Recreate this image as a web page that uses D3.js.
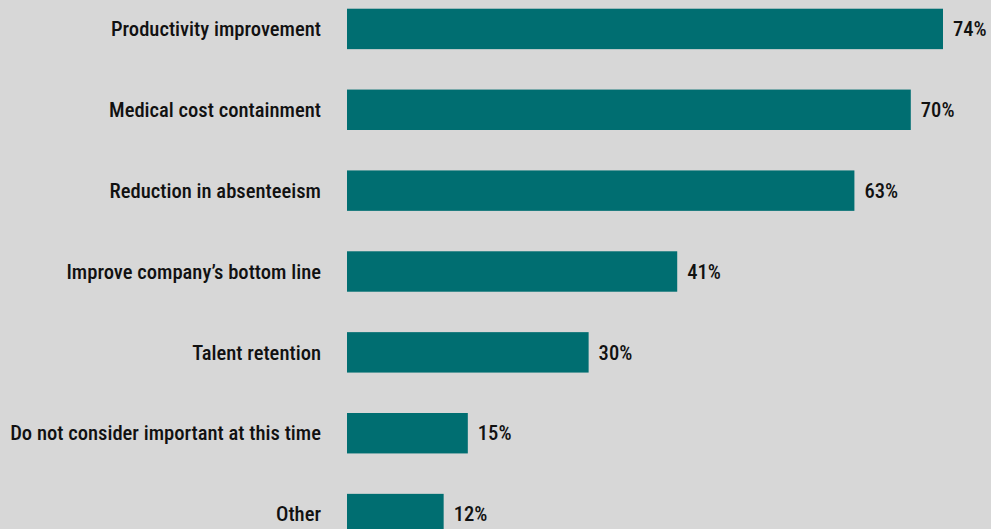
<!DOCTYPE html>
<html><head><meta charset="utf-8">
<script src="https://cdn.jsdelivr.net/npm/d3@7"></script>
<style>
html,body{margin:0;padding:0;background:#d7d7d7;overflow:hidden;}
text{font-family:"Liberation Sans Narrow","Roboto Condensed","DejaVu Sans Condensed",sans-serif;font-stretch:condensed;fill:#111;}
</style></head>
<body>
<svg id="chart" width="991" height="529"></svg>
<script>
const categories = ["Productivity improvement","Medical cost containment","Reduction in absenteeism","Improve company\u2019s bottom line","Talent retention","Do not consider important at this time","Other"];
const values = [74,70,63,41,30,15,12];
const valueLabels = ["74%","70%","63%","41%","30%","15%","12%"];

const svg = d3.select("#chart");
svg.append("rect").attr("width",991).attr("height",529).attr("fill","#d7d7d7");

const x = d3.scaleLinear().domain([0,74]).range([347,943]);
const y = d3.scaleBand().domain(categories).range([-11.5,554.5]).paddingInner(0.5).paddingOuter(0.25);

const g = svg.append("g");
g.selectAll("rect.bar").data(categories).join("rect").attr("class","bar")
  .attr("x",x(0)).attr("y",d=>y(d))
  .attr("width",(d,i)=>x(values[i])-x(0)).attr("height",y.bandwidth())
  .attr("fill","#006e71");

g.selectAll("text.cat").data(categories).join("text").attr("class","cat")
  .attr("x",321).attr("y",d=>y(d)+y.bandwidth()/2).attr("dy","0.35em")
  .attr("text-anchor","end").attr("font-size",20.6).attr("font-weight",500).text(d=>d);

g.selectAll("text.val").data(categories).join("text").attr("class","val")
  .attr("x",(d,i)=>x(values[i])+10).attr("y",d=>y(d)+y.bandwidth()/2).attr("dy","0.35em")
  .attr("font-size",20.6).attr("font-weight",500).text((d,i)=>valueLabels[i]);
</script>
</body></html>
